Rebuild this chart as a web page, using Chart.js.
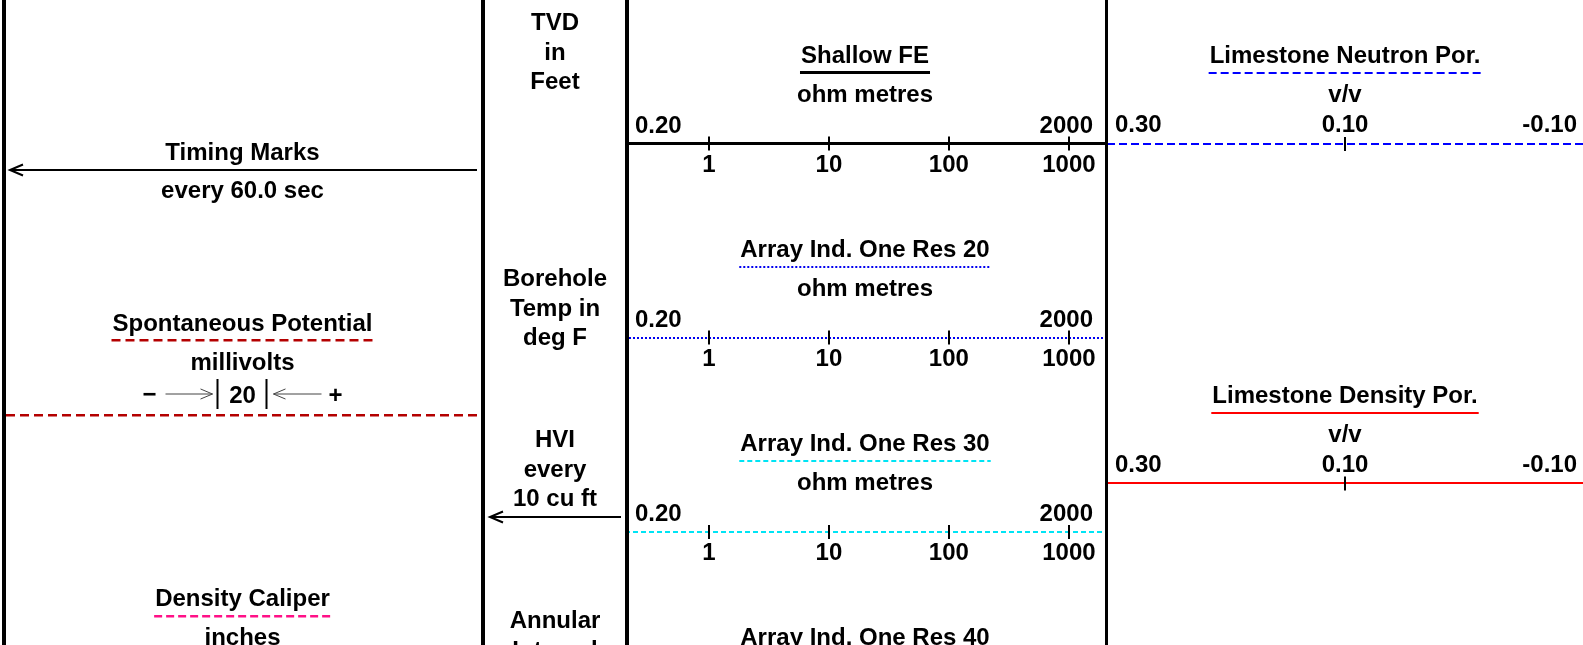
<!DOCTYPE html>
<html>
<head>
<meta charset="utf-8">
<script src="https://cdn.jsdelivr.net/npm/chart.js@4.4.1/dist/chart.umd.min.js"></script>
<style>
  html, body { margin: 0; padding: 0; background: #fff; overflow: hidden; }
  #log { position: relative; width: 1583px; height: 645px; }
  #log canvas { position: absolute; top: 0; }
</style>
</head>
<body>
<div id="log">
  <canvas id="trackLeft"></canvas>
  <canvas id="trackDepth"></canvas>
  <canvas id="trackRes"></canvas>
  <canvas id="trackPor"></canvas>
</div>
<script>
// ---- data ----
const leftCurves = ["Spontaneous Potential", "Density Caliper"];
const leftUnits = ["millivolts", "inches"];
const spDivision = "20";
const timingMarks = ["Timing Marks", "every 60.0 sec"];

const depthNotes = [
  ["TVD", "in", "Feet"],
  ["Borehole", "Temp in", "deg F"],
  ["HVI", "every", "10 cu ft"],
  ["Annular", "Interval"]
];

const resCurves = ["Shallow FE", "Array Ind. One Res 20", "Array Ind. One Res 30", "Array Ind. One Res 40"];
const resUnits = "ohm metres";
const resRange = [0.2, 2000];
const resRangeLabels = ["0.20", "2000"];
const resTicks = [1, 10, 100, 1000];

const porCurves = ["Limestone Neutron Por.", "Limestone Density Por."];
const porUnits = "v/v";
const porRange = [0.3, -0.1];
const porLabelValues = [0.3, 0.1, -0.1];
const porLabels = ["0.30", "0.10", "-0.10"];
const porTicks = [0.1];

// ---- styles / layout ----
const W = 1583, H = 645;
const FAMILY = "'Liberation Sans', Arial, sans-serif";
const FONT = "bold 24px " + FAMILY;
const TICK_FONT = { family: FAMILY, size: 24, weight: 'bold', lineHeight: 1.2 };

const leftStyles = [
  { color: '#b40000', width: 2.5, dash: [9, 5] },
  { color: '#ff1087', width: 2.5, dash: [8, 4] }
];
const resStyles = [
  { color: '#000000', width: 3, dash: [] },
  { color: '#0000f0', width: 2, dash: [2, 2] },
  { color: '#00e4f4', width: 2, dash: [5, 3] },
  { color: '#00b000', width: 2, dash: [] }
];
const porStyles = [
  { color: '#0000ff', width: 2, dash: [8, 4] },
  { color: '#ff0000', width: 2, dash: [] }
];

const trackLeft = [0, 481, 625, 1105];
const trackWidth = [481, 144, 480, 478];
const leftAxisY = [415.5, 691];
const resAxisY = [143.5, 337.5, 532, 726];
const porAxisY = [144, 483.5];
const depthNoteTop = [30, 286, 447, 628];
const LINE_STEP = 29.7;

function curveAxis(type, range, yPos, tickValues, showLabels) {
  return {
    type: type,
    axis: 'x',
    position: { y: yPos },
    min: Math.min(range[0], range[1]),
    max: Math.max(range[0], range[1]),
    reverse: range[0] > range[1],
    border: { display: false },
    grid: { display: false, drawTicks: false, tickLength: 0 },
    afterBuildTicks: (s) => { s.ticks = tickValues.map((v) => ({ value: v })); },
    afterFit: (s) => { s.paddingLeft = 0; s.paddingRight = 0; },
    ticks: {
      display: showLabels,
      padding: 7,
      color: '#000',
      font: TICK_FONT,
      maxRotation: 0,
      autoSkip: false,
      callback: (v) => String(v)
    }
  };
}

function text(ctx, s, x, y, align) {
  ctx.font = FONT;
  ctx.fillStyle = '#000';
  ctx.textBaseline = 'alphabetic';
  ctx.textAlign = align || 'center';
  ctx.fillText(s, x, y);
}

function styledLine(ctx, x1, x2, y, style) {
  const yy = Math.round(y - style.width / 2) + style.width / 2;
  ctx.save();
  ctx.strokeStyle = style.color;
  ctx.lineWidth = style.width;
  ctx.setLineDash(style.dash);
  ctx.beginPath();
  ctx.moveTo(x1, yy);
  ctx.lineTo(x2, yy);
  ctx.stroke();
  ctx.restore();
}

function underline(ctx, s, cx, y, style) {
  ctx.font = FONT;
  const w = ctx.measureText(s).width + 2;
  styledLine(ctx, cx - w / 2, cx + w / 2, y, style);
}

// curve scale line, drawn across the scale's own extent
function axisLine(ctx, chart, scale, value, style) {
  const y = chart.scales.y.getPixelForValue(value);
  styledLine(ctx, scale.left, scale.right, y, style);
}

function arrow(ctx, xFrom, xTo, y, head, width, color) {
  const dir = xTo < xFrom ? 1 : -1;
  ctx.save();
  ctx.strokeStyle = color;
  ctx.lineWidth = width;
  ctx.beginPath();
  ctx.moveTo(xFrom, y);
  ctx.lineTo(xTo, y);
  ctx.moveTo(xTo + dir * head, y - head * 0.42);
  ctx.lineTo(xTo, y);
  ctx.lineTo(xTo + dir * head, y + head * 0.42);
  ctx.stroke();
  ctx.restore();
}

function border(ctx, x, w) {
  ctx.fillStyle = '#000';
  ctx.fillRect(x, 0, w, H);
}

function tickMarks(ctx, scale, values, y) {
  ctx.save();
  ctx.strokeStyle = '#000';
  ctx.lineWidth = 2;
  ctx.setLineDash([]);
  values.forEach((v) => {
    const x = Math.round(scale.getPixelForValue(v));
    ctx.beginPath();
    ctx.moveTo(x, y - 7);
    ctx.lineTo(x, y + 7);
    ctx.stroke();
  });
  ctx.restore();
}

function makeChart(id, idx, padLeft, scales, draw) {
  const cv = document.getElementById(id);
  cv.width = trackWidth[idx];
  cv.height = H;
  cv.style.left = trackLeft[idx] + 'px';
  cv.style.width = trackWidth[idx] + 'px';
  cv.style.height = H + 'px';
  return new Chart(cv, {
    type: 'line',
    data: { datasets: [] },
    options: {
      responsive: false,
      animation: false,
      devicePixelRatio: 1,
      events: [],
      layout: { padding: { left: padLeft, right: 0, top: 0, bottom: 0 } },
      plugins: { legend: { display: false }, tooltip: { enabled: false } },
      scales: Object.assign({
        y: { type: 'linear', min: 0, max: H, reverse: true, display: false }
      }, scales)
    },
    plugins: [{ id: 'header_' + id, afterDraw: (chart) => draw(chart, chart.ctx) }]
  });
}

// ---- left track: timing marks, SP, caliper ----
const leftScales = {
  sp: curveAxis('linear', [-50, 50], leftAxisY[0], [], false),
  cal: curveAxis('linear', [6, 16], leftAxisY[1], [], false)
};
makeChart('trackLeft', 0, 6, leftScales, (chart, ctx) => {
  const a = chart.chartArea;
  const cx = (a.left + a.right) / 2 - 1;

  text(ctx, timingMarks[0], cx, 159.5);
  arrow(ctx, 477, 10, 170, 13, 2, '#000');
  text(ctx, timingMarks[1], cx, 198);

  leftCurves.forEach((name, i) => {
    const y = leftAxisY[i];
    text(ctx, name, cx, y - 85);
    underline(ctx, name, cx, y - 75, leftStyles[i]);
    text(ctx, leftUnits[i], cx, y - 46);
    axisLine(ctx, chart, chart.scales[i === 0 ? 'sp' : 'cal'], y, leftStyles[i]);
  });

  // SP scale row  − ⟶| 20 |⟵ +
  const ry = leftAxisY[0] - 21.5;
  text(ctx, '\u2212', cx - 93, ry + 8);
  arrow(ctx, cx - 77, cx - 30, ry, 12, 1, '#444');
  ctx.fillStyle = '#000';
  ctx.fillRect(cx - 26, ry - 15, 2, 30);
  text(ctx, spDivision, cx, ry + 9);
  ctx.fillRect(cx + 23, ry - 15, 2, 30);
  arrow(ctx, cx + 79, cx + 31, ry, 12, 1, '#444');
  text(ctx, '+', cx + 93, ry + 9);

  border(ctx, 2, 4);
});

// ---- depth track ----
makeChart('trackDepth', 1, 4, { x: { type: 'linear', display: false, min: 0, max: 1 } }, (chart, ctx) => {
  const a = chart.chartArea;
  const cx = (a.left + a.right) / 2;
  depthNotes.forEach((lines, i) => {
    lines.forEach((s, j) => text(ctx, s, cx, depthNoteTop[i] + j * LINE_STEP));
  });
  arrow(ctx, 140, 9, 517, 13, 2, '#000');
  border(ctx, 0, 4);
});

// ---- resistivity track ----
const resScales = {};
resCurves.forEach((name, i) => {
  resScales['res' + i] = curveAxis('logarithmic', resRange, resAxisY[i], resTicks, true);
});
makeChart('trackRes', 2, 0, resScales, (chart, ctx) => {
  const a = chart.chartArea;
  const cx = (a.left + a.right) / 2;
  resCurves.forEach((name, i) => {
    const y = resAxisY[i];
    const s = chart.scales['res' + i];
    text(ctx, name, cx, y - 81);
    underline(ctx, name, cx, y - 71, resStyles[i]);
    text(ctx, resUnits, cx, y - 42);
    text(ctx, resRangeLabels[0], s.getPixelForValue(resRange[0]) + 10, y - 11, 'left');
    text(ctx, resRangeLabels[1], s.getPixelForValue(resRange[1]) - 12, y - 11, 'right');
    axisLine(ctx, chart, s, y, resStyles[i]);
    tickMarks(ctx, s, resTicks, y);
  });
  border(ctx, 0, 4);
});

// ---- porosity track ----
const porScales = {};
porCurves.forEach((name, i) => {
  porScales['por' + i] = curveAxis('linear', porRange, porAxisY[i], porTicks, false);
});
makeChart('trackPor', 3, 2, porScales, (chart, ctx) => {
  const a = chart.chartArea;
  const cx = (a.left + a.right) / 2;
  porCurves.forEach((name, i) => {
    const y = porAxisY[i];
    const s = chart.scales['por' + i];
    text(ctx, name, cx, y - 81);
    underline(ctx, name, cx, y - 71, porStyles[i]);
    text(ctx, porUnits, cx, y - 42);
    porLabels.forEach((lab, k) => {
      const px = s.getPixelForValue(porLabelValues[k]);
      if (k === 0) text(ctx, lab, px + 8, y - 12, 'left');
      else if (k === porLabels.length - 1) text(ctx, lab, px - 6, y - 12, 'right');
      else text(ctx, lab, px, y - 12, 'center');
    });
    axisLine(ctx, chart, s, y, porStyles[i]);
    tickMarks(ctx, s, porTicks, y);
  });
  border(ctx, 0, 3);
});
</script>
</body>
</html>
